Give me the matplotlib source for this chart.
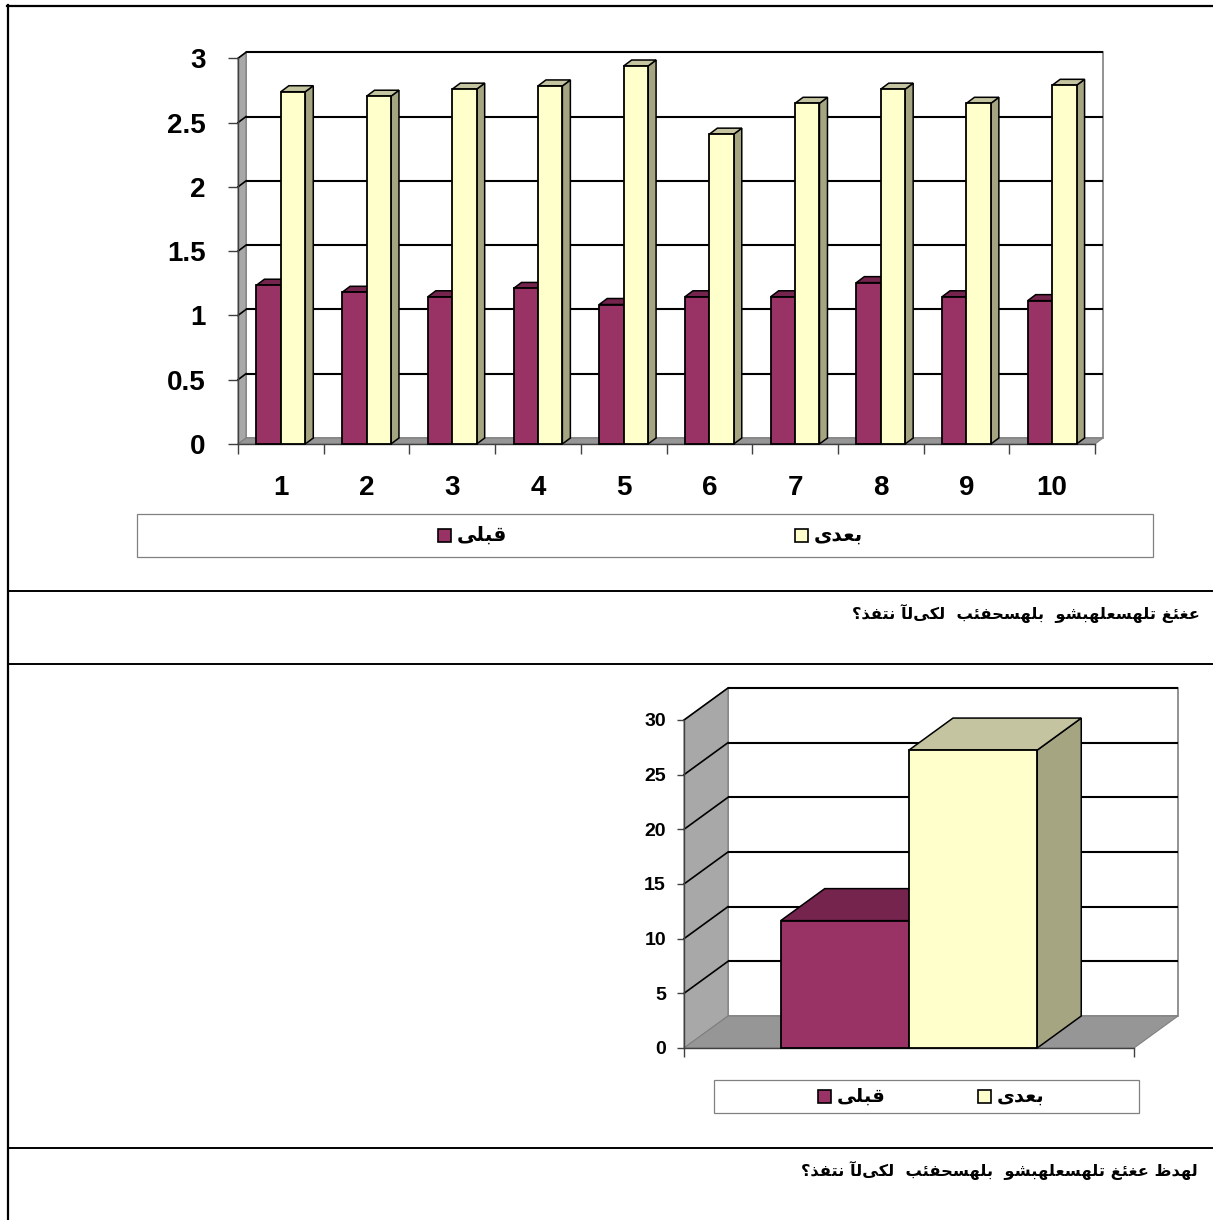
import matplotlib
matplotlib.use("Agg")
import matplotlib.pyplot as plt
from matplotlib.patches import Polygon, Rectangle

W, H = 1213, 1220

# data
categories = ['1', '2', '3', '4', '5', '6', '7', '8', '9', '10']
before = [1.235, 1.18, 1.145, 1.21, 1.085, 1.145, 1.145, 1.255, 1.145, 1.115]
after = [2.74, 2.705, 2.76, 2.785, 2.94, 2.41, 2.65, 2.76, 2.65, 2.79]
top_ticks = [0, 0.5, 1, 1.5, 2, 2.5, 3]
top_tick_labels = ['0', '0.5', '1', '1.5', '2', '2.5', '3']

total_before = [11.65]
total_after = [27.25]
bottom_ticks = [0, 5, 10, 15, 20, 25, 30]

series_names = ['قبلى', 'بعدى']
question_1 = 'عغئغ تلهسعلهبشو  بلهسحفئب  لكىلآ نتفذ؟'
question_2 = 'لهدظ عغئغ تلهسعلهبشو  بلهسحفئب  لكىلآ نتفذ؟'

purple, purple_top, purple_side = '#993366', '#74244d', '#5c1d3d'
cream, cream_top, cream_side = '#ffffcc', '#c4c4a0', '#a5a582'
wall_col, floor_col = '#a8a8a8', '#969696'
num_font = ['Liberation Sans', 'DejaVu Sans']
ar_font = ['DejaVu Sans']

# crude arabic shaping: presentation forms, then reverse for display
_dual = {'ب': 0xFE8F, 'ت': 0xFE95, 'ث': 0xFE99, 'ج': 0xFE9D, 'ح': 0xFEA1,
         'خ': 0xFEA5, 'س': 0xFEB1, 'ش': 0xFEB5, 'ص': 0xFEB9, 'ض': 0xFEBD,
         'ط': 0xFEC1, 'ظ': 0xFEC5, 'ع': 0xFEC9, 'غ': 0xFECD, 'ف': 0xFED1,
         'ق': 0xFED5, 'ك': 0xFED9, 'ل': 0xFEDD, 'م': 0xFEE1, 'ن': 0xFEE5,
         'ه': 0xFEE9, 'ي': 0xFEF1, 'ئ': 0xFE89}
_right = {'ا': 0xFE8D, 'آ': 0xFE81, 'أ': 0xFE83, 'د': 0xFEA9, 'ذ': 0xFEAB,
          'ر': 0xFEAD, 'ز': 0xFEAF, 'و': 0xFEED, 'ى': 0xFEEF, 'ة': 0xFE93}


def shape(text):
    out = []
    for i, ch in enumerate(text):
        base = _dual.get(ch, _right.get(ch))
        if base is None:
            out.append(ch)
            continue
        prev = text[i - 1] if i > 0 else ''
        nxt = text[i + 1] if i + 1 < len(text) else ''
        jp = prev in _dual
        jn = ch in _dual and (nxt in _dual or nxt in _right)
        form = 3 if (jp and jn) else 2 if jn else 1 if jp else 0
        out.append(chr(base + form))
    return ''.join(reversed(out))


def chart(ax, n, series, ymax, ticks, depth_px, grid_lw):
    ax.set_xlim(0.5, n + 0.5)
    ax.set_ylim(0, ymax)
    ax.patch.set_visible(False)
    bb = ax.get_position()
    dx = depth_px[0] / (bb.width * W / n)
    dy = depth_px[1] / (bb.height * H / ymax)
    x0, x1 = 0.5, n + 0.5
    ax.add_patch(Rectangle((x0 + dx, dy), x1 - x0, ymax, fc='white', ec='#7f7f7f',
                           lw=1.2, zorder=0.5, clip_on=False))
    ax.add_patch(Polygon([(x0, 0), (x0, ymax), (x0 + dx, ymax + dy), (x0 + dx, dy)],
                         closed=True, fc=wall_col, ec='#808080', lw=0.8, zorder=0.6, clip_on=False))
    ax.add_patch(Polygon([(x0, 0), (x1, 0), (x1 + dx, dy), (x0 + dx, dy)],
                         closed=True, fc=floor_col, ec='#808080', lw=0.8, zorder=0.6, clip_on=False))
    for t in ticks[1:]:
        ax.plot([x0 + dx, x1 + dx], [t + dy, t + dy], color='black', lw=grid_lw,
                zorder=0.7, clip_on=False, solid_capstyle='butt')
        ax.plot([x0, x0 + dx], [t, t + dy], color='black', lw=grid_lw * 0.8,
                zorder=0.7, clip_on=False)

    w = 0.285
    xs = range(1, n + 1)
    for (vals, fc, tc, sc), off in zip(series, [-w, 0]):
        for x, v in zip(xs, vals):
            l, r = x + off, x + off + w
            ax.add_patch(Polygon([(r, 0), (r + dx, dy), (r + dx, v + dy), (r, v)],
                                 closed=True, fc=sc, ec='black', lw=1.1, zorder=2, clip_on=False))
            ax.add_patch(Polygon([(l, v), (r, v), (r + dx, v + dy), (l + dx, v + dy)],
                                 closed=True, fc=tc, ec='black', lw=1.1, zorder=2, clip_on=False))
        ax.bar([x + off for x in xs], vals, width=w, align='edge', color=fc,
               edgecolor='black', lw=1.3, zorder=3, clip_on=False)

    for s in ['top', 'right']:
        ax.spines[s].set_visible(False)
    for s in ['left', 'bottom']:
        ax.spines[s].set_color('#404040')
        ax.spines[s].set_linewidth(1.0)
    ax.set_yticks(ticks)
    ax.set_xticks([i + 0.5 for i in range(n + 1)])
    ax.set_xticklabels([])


fig = plt.figure(figsize=(W / 100, H / 100), dpi=100)

# page overlay in pixel coordinates: table lines, questions, legends
ov = fig.add_axes([0, 0, 1, 1])
ov.set_xlim(0, W)
ov.set_ylim(H, 0)
ov.axis('off')
ov.plot([7, W], [6, 6], color='black', lw=1.6)
ov.plot([8, 8], [5, H], color='black', lw=1.6)
for yy in [591, 664, 1148]:
    ov.plot([8, W], [yy, yy], color='black', lw=1.4)
ov.text(1200, 613, shape(question_1), ha='right', va='center', fontsize=11.7,
        fontweight='bold', family=ar_font)
ov.text(1198, 1170, shape(question_2), ha='right', va='center', fontsize=11.7,
        fontweight='bold', family=ar_font)


def legend_box(x0, y0, x1, y1, items, size):
    ov.add_patch(Rectangle((x0, y0), x1 - x0, y1 - y0, fc='white', ec='#808080', lw=0.9))
    yc = (y0 + y1) / 2
    for sx, name, col in items:
        ov.add_patch(Rectangle((sx, yc - 6.5), 13, 13, fc=col, ec='black', lw=1.2))
        ov.text(sx + 19, yc, shape(name), ha='left', va='center', fontsize=size,
                fontweight='bold', family=ar_font)


legend_box(137, 514, 1153, 557, [(438, series_names[0], purple), (795, series_names[1], cream)], 14.5)
legend_box(714, 1080, 1139, 1113, [(818, series_names[0], purple), (978, series_names[1], cream)], 14)

# top chart
ax1 = fig.add_axes([238 / W, 1 - 444 / H, 857 / W, (444 - 58.3) / H])
chart(ax1, len(categories), [(before, purple, purple_top, purple_side),
                             (after, cream, cream_top, cream_side)],
      3, top_ticks, (8, 6), 1.5)
ax1.set_yticklabels(top_tick_labels, fontsize=20, fontweight='bold', family=num_font)
ax1.tick_params(axis='y', length=7.2, width=1, color='#404040', pad=16)
ax1.tick_params(axis='x', which='major', length=7.5, width=1, color='#404040')
ax1.set_xticks(range(1, len(categories) + 1), minor=True)
ax1.set_xticklabels(categories, minor=True, fontsize=20, fontweight='bold', family=num_font)
ax1.tick_params(axis='x', which='minor', length=0, pad=22)

# bottom chart
ax2 = fig.add_axes([684 / W, 1 - 1048 / H, 450 / W, 328 / H])
chart(ax2, 1, [(total_before, purple, purple_top, purple_side),
               (total_after, cream, cream_top, cream_side)],
      30, bottom_ticks, (44, 32), 1.5)
ax2.set_yticklabels([str(t) for t in bottom_ticks], fontsize=14, fontweight='bold', family=num_font)
ax2.tick_params(axis='y', length=5, width=1, color='#404040', pad=8)
ax2.tick_params(axis='x', which='major', length=6.5, width=1, color='#404040')

fig.savefig('out.png', dpi=100)
